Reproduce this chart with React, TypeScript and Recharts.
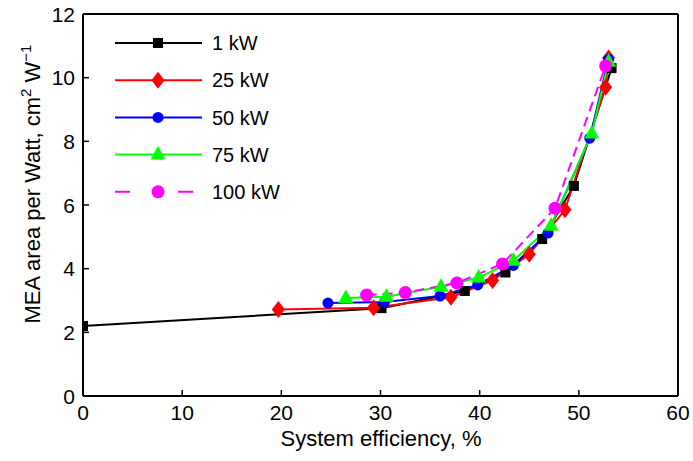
import React from 'react';
import { LineChart, Line, XAxis, YAxis, Legend, ReferenceLine } from 'recharts';

const FONT = '"Liberation Sans", Arial, Helvetica, sans-serif';
const FS = 20;
const TICK_FS = 21;
const TITLE_FS = 22;

// Series data
const x1kW = [0, 30.1, 38.5, 42.6, 46.3, 49.5, 53.3];
const y1kW = [2.2, 2.76, 3.3, 3.88, 4.93, 6.6, 10.3];

const x25kW = [19.7, 29.3, 37.1, 41.3, 45.0, 48.6, 52.7, 53.0];
const y25kW = [2.72, 2.77, 3.1, 3.63, 4.45, 5.85, 9.7, 10.62];

const x50kW = [24.7, 30.4, 36.0, 39.8, 43.4, 46.9, 51.1, 53.0];
const y50kW = [2.92, 2.95, 3.14, 3.49, 4.1, 5.12, 8.1, 10.58];

const x75kW = [26.5, 30.6, 36.1, 39.9, 43.4, 47.2, 51.3, 53.0];
const y75kW = [3.08, 3.12, 3.43, 3.72, 4.25, 5.35, 8.25, 10.5];

const x100kW = [28.6, 32.5, 37.7, 42.3, 47.6, 52.7];
const y100kW = [3.17, 3.25, 3.55, 4.15, 5.9, 10.37];

const xTicks = [0, 10, 20, 30, 40, 50, 60];
const yTicks = [0, 2, 4, 6, 8, 10, 12];

const seriesNames = ['1 kW', '25 kW', '50 kW', '75 kW', '100 kW'];
const seriesColors = ['#000000', '#ff0000', '#0000ff', '#00ff00', '#ff00ff'];
const seriesShapes = ['square', 'diamond', 'circle', 'triangle', 'bigcircle'];

const toRows = (xs: number[], ys: number[]) => xs.map((x, i) => ({ x, y: ys[i] }));

const seriesData = [
  toRows(x1kW, y1kW),
  toRows(x25kW, y25kW),
  toRows(x50kW, y50kW),
  toRows(x75kW, y75kW),
  toRows(x100kW, y100kW),
];

function Marker({ shape, cx, cy, color }: { shape: string; cx: number; cy: number; color: string }) {
  if (shape === 'square') {
    return <rect x={cx - 5} y={cy - 5} width={10} height={10} fill={color} />;
  }
  if (shape === 'diamond') {
    return <polygon points={`${cx},${cy - 8.5} ${cx + 6.5},${cy} ${cx},${cy + 8.5} ${cx - 6.5},${cy}`} fill={color} />;
  }
  if (shape === 'circle') {
    return <circle cx={cx} cy={cy} r={5.5} fill={color} />;
  }
  if (shape === 'triangle') {
    return <polygon points={`${cx},${cy - 8.5} ${cx + 7.5},${cy + 5} ${cx - 7.5},${cy + 5}`} fill={color} />;
  }
  return <circle cx={cx} cy={cy} r={6.5} fill={color} />;
}

const makeDot = (shape: string, color: string) => (props: any) => {
  const { cx, cy, index } = props;
  if (cx == null || cy == null) return <g key={`d-${index}`} />;
  return (
    <g key={`d-${shape}-${index}`}>
      <Marker shape={shape} cx={cx} cy={cy} color={color} />
    </g>
  );
};

const X_MARGIN = 24;
const XTick = (props: any) => {
  const { x, y, payload } = props;
  const axisY = y - X_MARGIN;
  return (
    <g>
      <line x1={x} x2={x} y1={axisY} y2={axisY - 6} stroke="#000" strokeWidth={1.5} />
      <text x={x} y={y} textAnchor="middle" fontFamily={FONT} fontSize={TICK_FS} fill="#000">
        {payload.value}
      </text>
    </g>
  );
};

const Y_MARGIN = 8;
const YTick = (props: any) => {
  const { x, y, payload } = props;
  const axisX = x + Y_MARGIN;
  return (
    <g>
      <line x1={axisX} x2={axisX + 6} y1={y} y2={y} stroke="#000" strokeWidth={1.5} />
      <text x={x} y={y} dy="0.36em" textAnchor="end" fontFamily={FONT} fontSize={TICK_FS} fill="#000">
        {payload.value}
      </text>
    </g>
  );
};

const LegendContent = () => (
  <svg width={240} height={195} style={{ display: 'block' }}>
    {seriesNames.map((name, i) => {
      const y = 23 + i * 37.2;
      const dashed = i === 4;
      return (
        <g key={name}>
          <line
            x1={15}
            x2={102}
            y1={y}
            y2={y}
            stroke={seriesColors[i]}
            strokeWidth={2}
            strokeDasharray={dashed ? '15 48' : undefined}
          />
          <Marker shape={seriesShapes[i]} cx={58} cy={y} color={seriesColors[i]} />
          <text x={112} y={y} dy="0.36em" fontFamily={FONT} fontSize={FS} fill="#000">
            {name}
          </text>
        </g>
      );
    })}
  </svg>
);

const XLabel = () => (
  <text x={381} y={446} textAnchor="middle" fontFamily={FONT} fontSize={TITLE_FS} fill="#000">
    System efficiency, %
  </text>
);

const YLabel = () => (
  <text
    x={40}
    y={184}
    transform="rotate(-90, 40, 184)"
    textAnchor="middle"
    fontFamily={FONT}
    fontSize={TITLE_FS}
    fill="#000"
  >
    MEA area per Watt, cm
    <tspan dy={-9} fontSize={15}>2</tspan>
    <tspan dy={9}> W</tspan>
    <tspan dy={-9} fontSize={15}>−1</tspan>
  </text>
);

export default function App() {
  return (
    <div style={{ position: 'absolute', left: 0, top: 0, width: 693, height: 461, background: '#fff' }}>
      <LineChart width={693} height={461} margin={{ top: 14, right: 15, bottom: 0, left: 0 }}>
        <XAxis
          type="number"
          dataKey="x"
          domain={[0, 60]}
          ticks={xTicks}
          allowDataOverflow
          tickSize={0}
          tickMargin={X_MARGIN}
          tick={<XTick />}
          axisLine={{ stroke: '#000', strokeWidth: 2 }}
          tickLine={false}
          label={<XLabel />}
          height={65}
        />
        <YAxis
          type="number"
          dataKey="y"
          domain={[0, 12]}
          ticks={yTicks}
          allowDataOverflow
          width={83}
          tickSize={0}
          tickMargin={Y_MARGIN}
          tick={<YTick />}
          axisLine={{ stroke: '#000', strokeWidth: 2 }}
          tickLine={false}
          label={<YLabel />}
        />
        <ReferenceLine y={12} stroke="#000" strokeWidth={2} />
        <ReferenceLine x={60} stroke="#000" strokeWidth={2} />
        {seriesData.map((rows, i) => (
          <Line
            key={seriesNames[i]}
            data={rows}
            dataKey="y"
            name={seriesNames[i]}
            type="linear"
            stroke={seriesColors[i]}
            strokeWidth={2}
            strokeDasharray={i === 4 ? '10 6' : undefined}
            dot={makeDot(seriesShapes[i], seriesColors[i])}
            activeDot={false}
            isAnimationActive={false}
          />
        ))}
        <Legend
          layout="vertical"
          align="center"
          verticalAlign="middle"
          content={<LegendContent />}
          wrapperStyle={{ left: 100, top: 20, width: 240, height: 195 }}
        />
      </LineChart>
    </div>
  );
}
